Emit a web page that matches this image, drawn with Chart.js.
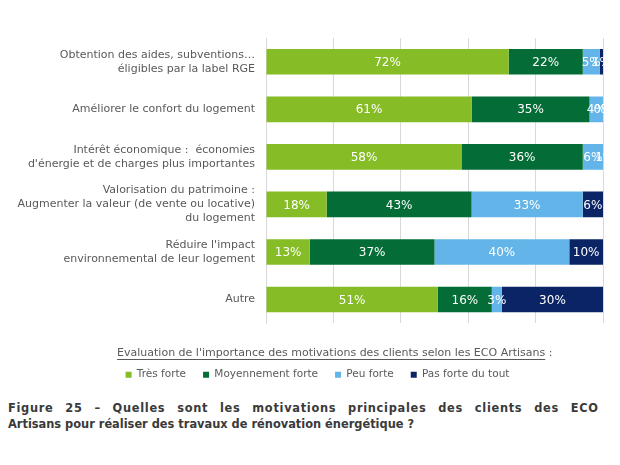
<!DOCTYPE html>
<html>
<head>
<meta charset="utf-8">
<script src="https://cdn.jsdelivr.net/npm/chart.js@4.4.0/dist/chart.umd.min.js"></script>
<style>
    body { margin: 0; background: #fff; width: 620px; height: 465px; position: relative; overflow: hidden; font-family: "DejaVu Sans", Verdana, sans-serif; }
    #wrap { position: absolute; left: 0; top: 0; width: 620px; height: 390px; }
    #legende { position: absolute; left: 8px; top: 400px; width: 590px; font-weight: bold; font-size: 11.4px; line-height: 16px; color: #3a3a3a; }
    #legende .l1 { text-align: justify; text-align-last: justify; letter-spacing: 0.7px; margin-right: -0.7px; }
</style>
</head>
<body>
<div id="wrap"><canvas id="motivChart"></canvas></div>
<div id="legende">
    <div class="l1">Figure 25 – Quelles sont les motivations principales des clients des ECO</div>
    <div>Artisans pour réaliser des travaux de rénovation énergétique ?</div>
</div>

<script>
// ==== DONNEES ====
const categories = [
    ['Obtention des aides, subventions…', 'éligibles par la label RGE'],
    'Améliorer le confort du logement',
    ['Intérêt économique :  économies', "d'énergie et de charges plus importantes"],
    ['Valorisation du patrimoine :', 'Augmenter la valeur (de vente ou locative)', 'du logement'],
    ["Réduire l'impact", 'environnemental de leur logement'],
    'Autre'
];
const tresForte = [72, 61, 58, 18, 13, 51];
const moyennementForte = [22, 35, 36, 43, 37, 16];
const peuForte = [5, 4, 6, 33, 40, 3];
const pasForte = [1, 0, 1, 6, 10, 30];
const seriesNames = ['Très forte', 'Moyennement forte', 'Peu forte', 'Pas forte du tout'];
const seriesColors = ['#86bc25', '#036c37', '#63b4e8', '#0a2466'];
const legendTitle = "Evaluation de l'importance des motivations des clients selon les ECO Artisans";

const FONT = '"DejaVu Sans", Verdana, sans-serif';

// Etiquettes blanches au centre de chaque segment
const barLabels = {
    id: 'barLabels',
    afterDatasetsDraw(chart) {
        const ctx = chart.ctx;
        ctx.save();
        ctx.font = '12px ' + FONT;
        ctx.fillStyle = '#ffffff';
        ctx.textAlign = 'center';
        ctx.textBaseline = 'middle';
        chart.data.datasets.forEach((ds, i) => {
            chart.getDatasetMeta(i).data.forEach((bar, j) => {
                const c = bar.getCenterPoint();
                ctx.fillText(ds.data[j] + '%', c.x, c.y + 1);
            });
        });
        ctx.restore();
    }
};

// Décale un peu la légende vers la droite (comme l'original)
const shiftLegend = {
    id: 'shiftLegend',
    afterLayout(chart) {
        chart.legend.left += 16;
        chart.legend.right += 16;
    }
};

// Souligne le titre de la légende (sans le " :")
const underlineTitle = {
    id: 'underlineTitle',
    afterDraw(chart) {
        const lg = chart.legend;
        const t = lg.options.title;
        const ctx = chart.ctx;
        ctx.save();
        ctx.font = t.font.size + 'px ' + FONT;
        const part = ctx.measureText(legendTitle).width;
        const maxW = Math.max(...lg.lineWidths);
        const x0 = (lg.left + lg.right - maxW) / 2;
        const y = lg.top + t.padding.top + t.font.size / 2 + 6.5;
        ctx.strokeStyle = '#595959';
        ctx.lineWidth = 1;
        ctx.beginPath();
        ctx.moveTo(x0, Math.round(y) + 0.5);
        ctx.lineTo(x0 + part, Math.round(y) + 0.5);
        ctx.stroke();
        ctx.restore();
    }
};

const allSeries = [tresForte, moyennementForte, peuForte, pasForte];

new Chart(document.getElementById('motivChart'), {
    type: 'bar',
    data: {
        labels: categories,
        datasets: allSeries.map((d, i) => ({
            label: seriesNames[i],
            data: d,
            backgroundColor: seriesColors[i],
            borderWidth: 0,
            categoryPercentage: 1,
            barPercentage: 0.54
        }))
    },
    options: {
        indexAxis: 'y',
        responsive: true,
        maintainAspectRatio: false,
        animation: false,
        layout: { padding: { top: 38, right: 17, bottom: 0, left: 0 } },
        plugins: {
            tooltip: { enabled: false },
            legend: {
                position: 'bottom',
                title: {
                    display: true,
                    position: 'start',
                    text: legendTitle + ' :',
                    color: '#595959',
                    font: { family: FONT, size: 11, lineHeight: 1.2 },
                    padding: { top: 24, bottom: -8 }
                },
                labels: {
                    boxWidth: 6,
                    boxHeight: 6,
                    padding: 17,
                    color: '#595959',
                    font: { family: FONT, size: 10.5 }
                }
            }
        },
        scales: {
            x: {
                stacked: true,
                min: 0,
                max: 100,
                ticks: { display: false, stepSize: 20 },
                grid: { color: '#d9d9d9', drawTicks: false },
                border: { display: false },
                afterFit(scale) { scale.height = 0; }
            },
            y: {
                stacked: true,
                grid: { display: false, drawTicks: false },
                border: { color: '#d9d9d9' },
                ticks: {
                    color: '#595959',
                    padding: 11,
                    font: { family: FONT, size: 11, lineHeight: 1.27 }
                },
                afterFit(scale) { scale.width = 266; }
            }
        }
    },
    plugins: [barLabels, shiftLegend, underlineTitle]
});
</script>
</body>
</html>
